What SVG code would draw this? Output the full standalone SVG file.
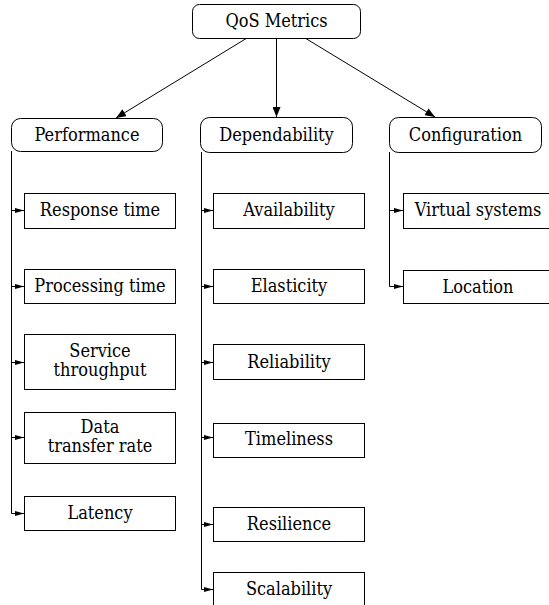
<svg xmlns="http://www.w3.org/2000/svg" width="549" height="605" viewBox="0 0 549 605">
<style>
.node rect{fill:#fff;stroke:#000;stroke-width:1}
.node text{font-family:"DejaVu Serif Condensed","DejaVu Serif","Liberation Serif",serif;font-stretch:condensed;font-size:18px;fill:#000;text-anchor:middle}
.conn path{fill:none;stroke:#000;stroke-width:1}
</style>
<defs>
<marker id="big" markerUnits="userSpaceOnUse" markerWidth="10" markerHeight="8" refX="10" refY="4" orient="auto">
<path d="M0,0 L10,4 L0,8 Z" fill="#000"/>
</marker>
<marker id="small" markerUnits="userSpaceOnUse" markerWidth="9" markerHeight="6" refX="9" refY="3" orient="auto">
<path d="M0,0.5 L9,3 L0,5.5 Z" fill="#000"/>
</marker>
</defs>
<rect width="549" height="605" fill="#fff"/>
<g class="conn">
<path d="M247,38 L116,118" marker-end="url(#big)"/>
<path d="M276.5,38 L276.5,117" marker-end="url(#big)"/>
<path d="M305,38 L435,117" marker-end="url(#big)"/>
<path d="M11.5,151 V210.5 H24" marker-end="url(#small)"/>
<path d="M11.5,151 V286.5 H24" marker-end="url(#small)"/>
<path d="M11.5,151 V362.5 H24" marker-end="url(#small)"/>
<path d="M11.5,151 V437.5 H24" marker-end="url(#small)"/>
<path d="M11.5,151 V513.5 H24" marker-end="url(#small)"/>
<path d="M201.5,152 V210.5 H213" marker-end="url(#small)"/>
<path d="M201.5,152 V286.5 H213" marker-end="url(#small)"/>
<path d="M201.5,152 V362.5 H213" marker-end="url(#small)"/>
<path d="M201.5,152 V437.5 H213" marker-end="url(#small)"/>
<path d="M201.5,152 V524.5 H213" marker-end="url(#small)"/>
<path d="M201.5,152 V589.5 H213" marker-end="url(#small)"/>
<path d="M389.5,152 V210.5 H403" marker-end="url(#small)"/>
<path d="M389.5,152 V286.5 H403" marker-end="url(#small)"/>
</g>
<g id="qos" class="node"><rect x="192.5" y="4.5" width="168" height="34" rx="7"/><text x="276.5" y="27">QoS Metrics</text></g>
<g id="performance" class="node"><rect x="11.5" y="118.5" width="151" height="33" rx="9"/><text x="87" y="141">Performance</text></g>
<g id="dependability" class="node"><rect x="200.5" y="117.5" width="152" height="35" rx="9"/><text x="276.5" y="141">Dependability</text></g>
<g id="configuration" class="node"><rect x="389.5" y="117.5" width="152" height="35" rx="9"/><text x="465.5" y="141">Configuration</text></g>

<g id="response-time" class="node"><rect x="24.5" y="193.5" width="151" height="35"/><text x="100" y="216">Response time</text></g>
<g id="processing-time" class="node"><rect x="24.5" y="269.5" width="151" height="34"/><text x="100" y="292">Processing time</text></g>
<g id="service-throughput" class="node"><rect x="24.5" y="334.5" width="151" height="55"/><text x="100" y="356.5">Service<tspan x="100" dy="19">throughput</tspan></text></g>
<g id="data-transfer-rate" class="node"><rect x="24.5" y="412.5" width="151" height="51"/><text x="100" y="433">Data<tspan x="100" dy="19">transfer rate</tspan></text></g>
<g id="latency" class="node"><rect x="24.5" y="496.5" width="151" height="34"/><text x="100" y="519">Latency</text></g>

<g id="availability" class="node"><rect x="213.5" y="193.5" width="151" height="35"/><text x="289" y="216">Availability</text></g>
<g id="elasticity" class="node"><rect x="213.5" y="269.5" width="151" height="34"/><text x="289" y="292">Elasticity</text></g>
<g id="reliability" class="node"><rect x="213.5" y="344.5" width="151" height="35"/><text x="289" y="368">Reliability</text></g>
<g id="timeliness" class="node"><rect x="213.5" y="423.5" width="151" height="34"/><text x="289" y="445">Timeliness</text></g>
<g id="resilience" class="node"><rect x="213.5" y="507.5" width="151" height="34"/><text x="289" y="530">Resilience</text></g>
<g id="scalability" class="node"><rect x="213.5" y="572.5" width="151" height="40"/><text x="289" y="595">Scalability</text></g>

<g id="virtual-systems" class="node"><rect x="403.5" y="193.5" width="151" height="35"/><text x="478" y="216">Virtual systems</text></g>
<g id="location" class="node"><rect x="403.5" y="270.5" width="151" height="33"/><text x="478" y="293">Location</text></g>
</svg>
